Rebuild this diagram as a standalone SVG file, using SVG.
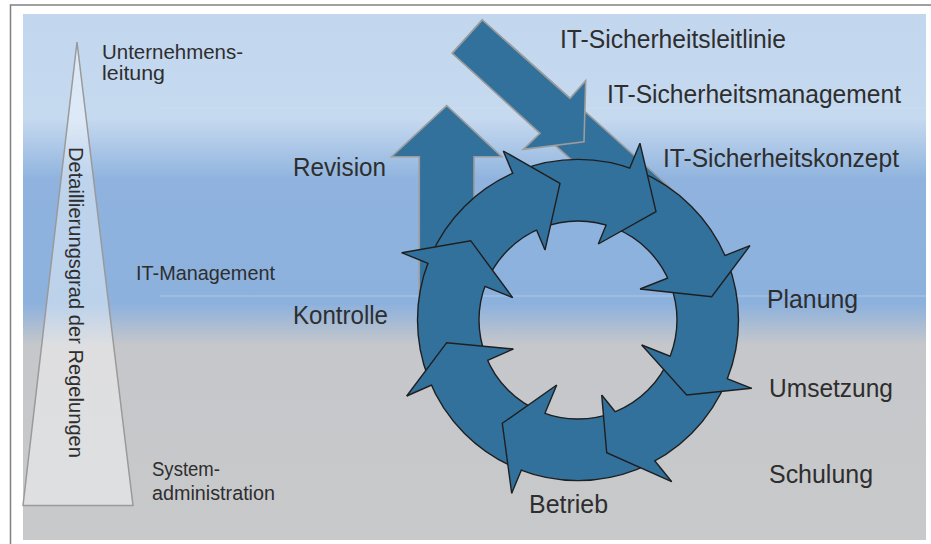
<svg xmlns="http://www.w3.org/2000/svg" width="931" height="544" viewBox="0 0 931 544">
  <defs>
    <!-- three management levels: light blue, mid blue, grey -->
    <linearGradient id="bg" gradientUnits="userSpaceOnUse" x1="0" y1="14" x2="0" y2="540">
      <stop offset="0" stop-color="#c2d6ee"/>
      <stop offset="0.2" stop-color="#c5d9ef"/>
      <stop offset="0.315" stop-color="#8fb3de"/>
      <stop offset="0.55" stop-color="#8cb1dd"/>
      <stop offset="0.63" stop-color="#c6c7ca"/>
      <stop offset="1" stop-color="#c8c9cb"/>
    </linearGradient>
    <!-- hides the head base lines where they cross the ring band -->
    <mask id="outsideRing" maskUnits="userSpaceOnUse" x="0" y="0" width="931" height="544">
      <rect width="931" height="544" fill="#fff"/>
      <path d="M418,320 a160,160 0 1,0 320,0 a160,160 0 1,0 -320,0 Z M478.5,320 a99.5,99.5 0 1,0 199,0 a99.5,99.5 0 1,0 -199,0 Z" fill="#000" fill-rule="evenodd"/>
    </mask>
    <style>
      .lbl{font-family:"Liberation Sans",Arial,sans-serif;fill:#2e2e2e}
      .big{font-size:25px}
      .small{font-size:20.5px}
      .block{fill:#32719b;stroke:#9c9c9c;stroke-width:1.6;stroke-linejoin:miter}
      .ring{fill:#32719b;stroke:#1f1f1f;stroke-width:1.4}
      .headfill{fill:#32719b;stroke:none}
      .edge{fill:none;stroke:#1f1f1f;stroke-width:1.4;stroke-linejoin:miter}
    </style>
  </defs>

  <!-- frame -->
  <rect width="931" height="544" fill="#fff"/>
  <rect x="23" y="14" width="903" height="526" fill="url(#bg)"/>
  <line x1="160" y1="108" x2="926" y2="108" stroke="#fff" stroke-opacity="0.15" stroke-width="1"/>
  <line x1="160" y1="296" x2="926" y2="296" stroke="#fff" stroke-opacity="0.3" stroke-width="1"/>
  <path d="M10.5,544 V5 H931" fill="none" stroke="#808080" stroke-width="1.5"/>

  <!-- level pyramid -->
  <g id="pyramid">
    <polygon points="77,42 133,505.5 23,505.5" fill="#fff" fill-opacity="0.42" stroke="#9a9a9a" stroke-width="1.5"/>
    <text class="lbl" font-size="20.5" transform="translate(69,147) rotate(90)" textLength="311" lengthAdjust="spacingAndGlyphs">Detaillierungsgrad der Regelungen</text>
  </g>

  <g id="level-labels">
    <g id="level-top">
      <text class="lbl small" x="102" y="59" textLength="141" lengthAdjust="spacingAndGlyphs">Unternehmens-</text>
      <text class="lbl small" x="102" y="80" textLength="63" lengthAdjust="spacingAndGlyphs">leitung</text>
    </g>
    <g id="level-mid">
      <text class="lbl small" x="136" y="280" textLength="139" lengthAdjust="spacingAndGlyphs">IT-Management</text>
    </g>
    <g id="level-bottom">
      <text class="lbl small" x="152" y="476" textLength="68" lengthAdjust="spacingAndGlyphs">System-</text>
      <text class="lbl small" x="152" y="500" textLength="123" lengthAdjust="spacingAndGlyphs">administration</text>
    </g>
  </g>

  <!-- block arrows behind the cycle -->
  <g id="connectors">
    <polygon id="policy-band" class="block" points="482.3,20 684.5,200.5 654.5,234.1 452.3,53.3"/>
    <polygon id="policy-arrow" class="block" points="482.3,20 570,98.3 585.7,80.7 584,141.7 523.3,149.3 540,133.3 452.3,53.3"/>
    <polygon id="revision-arrow" class="block" points="446.7,105.7 501.7,156.7 474,156.7 474,318 419.3,318 419.3,156.7 391.7,156.7"/>
  </g>

  <!-- security process cycle: eight chained arc arrows -->
  <g id="cycle">
    <path class="ring" fill-rule="evenodd" d="M417.5,320 a160.5,160.5 0 1,0 321,0 a160.5,160.5 0 1,0 -321,0 Z M479,320 a99,99 0 1,0 198,0 a99,99 0 1,0 -198,0 Z"/>
    <g id="cycle-1">
      <polygon class="headfill" points="503.3,151 560,183.3 545,250"/>
      <polyline class="edge" points="503.3,151 560,183.3 545,250"/>
      <line class="edge" x1="503.3" y1="151" x2="545" y2="250" mask="url(#outsideRing)"/>
    </g>
    <g id="cycle-2">
      <polygon class="headfill" points="640,143.3 656,211.7 598.3,244"/>
      <polyline class="edge" points="640,143.3 656,211.7 598.3,244"/>
      <line class="edge" x1="640" y1="143.3" x2="598.3" y2="244" mask="url(#outsideRing)"/>
    </g>
    <g id="cycle-3">
      <polygon class="headfill" points="750,245.7 711.7,296.7 640,289"/>
      <polyline class="edge" points="750,245.7 711.7,296.7 640,289"/>
      <line class="edge" x1="750" y1="245.7" x2="640" y2="289" mask="url(#outsideRing)"/>
    </g>
    <g id="cycle-4">
      <polygon class="headfill" points="751.7,388.3 686.7,395 641.7,345"/>
      <polyline class="edge" points="751.7,388.3 686.7,395 641.7,345"/>
      <line class="edge" x1="751.7" y1="388.3" x2="641.7" y2="345" mask="url(#outsideRing)"/>
    </g>
    <g id="cycle-5">
      <polygon class="headfill" points="671.7,481.7 606.7,452.7 601.7,395"/>
      <polyline class="edge" points="671.7,481.7 606.7,452.7 601.7,395"/>
      <line class="edge" x1="671.7" y1="481.7" x2="601.7" y2="395" mask="url(#outsideRing)"/>
    </g>
    <g id="cycle-6">
      <polygon class="headfill" points="511.7,493.3 502.3,423.3 556.7,385"/>
      <polyline class="edge" points="511.7,493.3 502.3,423.3 556.7,385"/>
      <line class="edge" x1="511.7" y1="493.3" x2="556.7" y2="385" mask="url(#outsideRing)"/>
    </g>
    <g id="cycle-7">
      <polygon class="headfill" points="406.7,396 446.7,342.7 513.3,349"/>
      <polyline class="edge" points="406.7,396 446.7,342.7 513.3,349"/>
      <line class="edge" x1="406.7" y1="396" x2="513.3" y2="349" mask="url(#outsideRing)"/>
    </g>
    <g id="cycle-8">
      <polygon class="headfill" points="401.7,252.7 470.7,240.7 512.7,297.7"/>
      <polyline class="edge" points="401.7,252.7 470.7,240.7 512.7,297.7"/>
      <line class="edge" x1="401.7" y1="252.7" x2="512.7" y2="297.7" mask="url(#outsideRing)"/>
    </g>
  </g>

  <!-- process labels -->
  <g id="step-labels">
    <g id="label-leitlinie"><text class="lbl big" x="560" y="48" textLength="226" lengthAdjust="spacingAndGlyphs">IT-Sicherheitsleitlinie</text></g>
    <g id="label-management"><text class="lbl big" x="607" y="103" textLength="294" lengthAdjust="spacingAndGlyphs">IT-Sicherheitsmanagement</text></g>
    <g id="label-konzept"><text class="lbl big" x="663" y="166.5" textLength="236" lengthAdjust="spacingAndGlyphs">IT-Sicherheitskonzept</text></g>
    <g id="label-revision"><text class="lbl big" x="293" y="176" textLength="93" lengthAdjust="spacingAndGlyphs">Revision</text></g>
    <g id="label-kontrolle"><text class="lbl big" x="293" y="324" textLength="95" lengthAdjust="spacingAndGlyphs">Kontrolle</text></g>
    <g id="label-planung"><text class="lbl big" x="767" y="308" textLength="91" lengthAdjust="spacingAndGlyphs">Planung</text></g>
    <g id="label-umsetzung"><text class="lbl big" x="769" y="397" textLength="124" lengthAdjust="spacingAndGlyphs">Umsetzung</text></g>
    <g id="label-schulung"><text class="lbl big" x="769" y="483" textLength="104" lengthAdjust="spacingAndGlyphs">Schulung</text></g>
    <g id="label-betrieb"><text class="lbl big" x="529" y="513" textLength="79" lengthAdjust="spacingAndGlyphs">Betrieb</text></g>
  </g>
</svg>
